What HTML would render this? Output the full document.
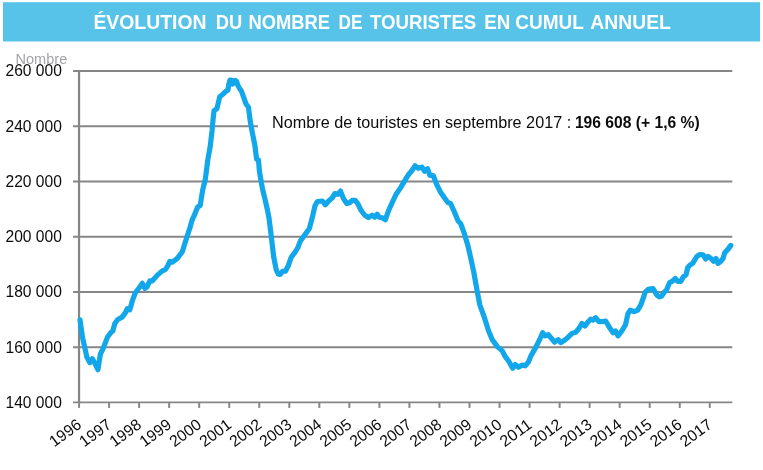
<!DOCTYPE html>
<html lang="fr"><head><meta charset="utf-8"><title>Évolution du nombre de touristes en cumul annuel</title>
<style>
html,body{margin:0;padding:0;background:#fff;}
body{width:763px;height:470px;overflow:hidden;}
svg{display:block;}
text{font-family:"Liberation Sans", sans-serif;}
</style></head><body>
<svg width="763" height="470" viewBox="0 0 763 470">
<rect x="0" y="0" width="763" height="470" fill="#ffffff"/>
<rect x="3" y="2.2" width="757" height="39.3" fill="#57c3e9"/>

<g font-size="20" font-weight="bold" fill="#ffffff">
<text x="93.40" y="28.6" textLength="113.10" lengthAdjust="spacingAndGlyphs">ÉVOLUTION</text>
<text x="215.70" y="28.6" textLength="26.50" lengthAdjust="spacingAndGlyphs">DU</text>
<text x="248.40" y="28.6" textLength="81.60" lengthAdjust="spacingAndGlyphs">NOMBRE</text>
<text x="338.60" y="28.6" textLength="24.00" lengthAdjust="spacingAndGlyphs">DE</text>
<text x="369.90" y="28.6" textLength="106.40" lengthAdjust="spacingAndGlyphs">TOURISTES</text>
<text x="484.20" y="28.6" textLength="26.10" lengthAdjust="spacingAndGlyphs">EN</text>
<text x="515.20" y="28.6" textLength="68.70" lengthAdjust="spacingAndGlyphs">CUMUL</text>
<text x="590.30" y="28.6" textLength="80.60" lengthAdjust="spacingAndGlyphs">ANNUEL</text>
</g>
<line x1="73.05" y1="71.00" x2="732.3" y2="71.00" stroke="#868686" stroke-width="2"/>
<line x1="73.05" y1="126.23" x2="732.3" y2="126.23" stroke="#868686" stroke-width="2"/>
<line x1="73.05" y1="181.47" x2="732.3" y2="181.47" stroke="#868686" stroke-width="2"/>
<line x1="73.05" y1="236.70" x2="732.3" y2="236.70" stroke="#868686" stroke-width="2"/>
<line x1="73.05" y1="291.93" x2="732.3" y2="291.93" stroke="#868686" stroke-width="2"/>
<line x1="73.05" y1="347.17" x2="732.3" y2="347.17" stroke="#868686" stroke-width="2"/>
<line x1="73.05" y1="402.40" x2="732.3" y2="402.40" stroke="#868686" stroke-width="1.7"/>
<line x1="79.05" y1="70.20" x2="79.05" y2="403.40" stroke="#868686" stroke-width="2.2"/>
<line x1="79.05" y1="402.40" x2="79.05" y2="407.90" stroke="#868686" stroke-width="2"/>
<line x1="109.08" y1="402.40" x2="109.08" y2="407.90" stroke="#868686" stroke-width="2"/>
<line x1="139.12" y1="402.40" x2="139.12" y2="407.90" stroke="#868686" stroke-width="2"/>
<line x1="169.15" y1="402.40" x2="169.15" y2="407.90" stroke="#868686" stroke-width="2"/>
<line x1="199.19" y1="402.40" x2="199.19" y2="407.90" stroke="#868686" stroke-width="2"/>
<line x1="229.22" y1="402.40" x2="229.22" y2="407.90" stroke="#868686" stroke-width="2"/>
<line x1="259.26" y1="402.40" x2="259.26" y2="407.90" stroke="#868686" stroke-width="2"/>
<line x1="289.29" y1="402.40" x2="289.29" y2="407.90" stroke="#868686" stroke-width="2"/>
<line x1="319.33" y1="402.40" x2="319.33" y2="407.90" stroke="#868686" stroke-width="2"/>
<line x1="349.36" y1="402.40" x2="349.36" y2="407.90" stroke="#868686" stroke-width="2"/>
<line x1="379.39" y1="402.40" x2="379.39" y2="407.90" stroke="#868686" stroke-width="2"/>
<line x1="409.43" y1="402.40" x2="409.43" y2="407.90" stroke="#868686" stroke-width="2"/>
<line x1="439.46" y1="402.40" x2="439.46" y2="407.90" stroke="#868686" stroke-width="2"/>
<line x1="469.50" y1="402.40" x2="469.50" y2="407.90" stroke="#868686" stroke-width="2"/>
<line x1="499.53" y1="402.40" x2="499.53" y2="407.90" stroke="#868686" stroke-width="2"/>
<line x1="529.57" y1="402.40" x2="529.57" y2="407.90" stroke="#868686" stroke-width="2"/>
<line x1="559.60" y1="402.40" x2="559.60" y2="407.90" stroke="#868686" stroke-width="2"/>
<line x1="589.64" y1="402.40" x2="589.64" y2="407.90" stroke="#868686" stroke-width="2"/>
<line x1="619.67" y1="402.40" x2="619.67" y2="407.90" stroke="#868686" stroke-width="2"/>
<line x1="649.71" y1="402.40" x2="649.71" y2="407.90" stroke="#868686" stroke-width="2"/>
<line x1="679.74" y1="402.40" x2="679.74" y2="407.90" stroke="#868686" stroke-width="2"/>
<line x1="709.77" y1="402.40" x2="709.77" y2="407.90" stroke="#868686" stroke-width="2"/>
<rect x="258" y="112" width="480" height="28" fill="#ffffff"/>
<path d="M80.0,319.9 L82.5,337.3 L86.9,357.2 L89.9,362.7 L92.4,358.7 L94.9,363.4 L97.9,369.7 L100.4,354.2 L103.6,347.3 L107.4,337.3 L111.1,332.3 L112.8,331.0 L114.8,323.6 L117.8,319.4 L122.3,316.9 L125.3,312.9 L127.3,308.7 L129.8,309.9 L132.2,301.2 L135.2,293.0 L139.0,288.0 L142.4,283.3 L144.9,288.3 L146.9,287.0 L149.9,280.8 L152.4,280.8 L157.4,275.1 L162.3,270.9 L165.3,269.6 L167.8,265.9 L169.8,261.4 L172.3,262.2 L177.3,258.4 L182.3,251.7 L185.2,242.2 L189.7,228.5 L192.2,219.8 L194.7,214.3 L197.7,206.9 L200.2,205.4 L202.7,189.9 L205.3,179.5 L207.9,159.1 L210.1,147.2 L212.1,130.2 L212.3,127.4 L213.1,119.1 L214.0,110.8 L216.9,108.6 L218.4,102.5 L219.7,96.7 L222.9,94.2 L225.5,91.6 L228.0,90.0 L228.7,84.6 L229.9,80.1 L231.5,80.1 L232.7,84.0 L234.0,82.7 L235.3,80.5 L236.6,81.4 L237.8,85.2 L239.5,88.4 L241.4,91.0 L243.0,95.5 L244.6,99.9 L245.9,103.8 L248.4,107.0 L249.3,114.0 L250.3,121.6 L251.4,127.4 L252.5,133.6 L254.9,145.5 L256.6,159.1 L258.5,160.0 L259.4,171.0 L261.4,182.9 L262.9,190.7 L265.1,199.6 L267.3,209.3 L269.0,218.0 L271.0,234.1 L273.7,257.0 L276.3,270.0 L278.2,274.0 L280.2,274.5 L282.6,271.4 L285.4,271.2 L288.3,265.7 L291.2,257.3 L295.0,252.3 L297.9,247.5 L300.2,241.3 L304.9,234.7 L309.4,228.4 L312.4,217.2 L314.9,206.0 L317.4,201.5 L322.4,201.0 L325.4,204.8 L328.6,201.0 L332.3,197.8 L334.8,193.6 L337.8,194.3 L340.5,191.1 L343.5,198.6 L346.8,203.5 L349.8,202.8 L352.2,200.3 L355.2,200.3 L357.7,203.5 L361.0,210.3 L364.7,215.2 L368.4,217.7 L372.2,215.2 L374.7,217.2 L377.2,214.2 L379.1,217.2 L382.1,217.7 L385.4,219.7 L388.4,211.0 L392.1,202.8 L395.8,194.8 L400.8,187.4 L404.5,181.1 L408.3,174.9 L412.0,170.5 L415.0,165.8 L418.2,168.2 L422.0,167.2 L424.5,171.2 L427.5,168.7 L429.9,175.5 L433.2,175.5 L436.9,184.9 L440.6,192.3 L444.4,197.8 L448.1,202.8 L450.6,203.5 L454.3,211.8 L458.1,221.0 L460.6,223.5 L464.3,233.4 L468.0,245.9 L470.6,257.5 L473.6,271.2 L477.4,292.4 L479.8,304.8 L484.3,317.3 L488.6,331.0 L492.3,339.7 L497.3,346.6 L502.3,350.9 L505.2,356.6 L508.5,360.8 L512.7,368.3 L515.2,364.6 L518.4,367.1 L522.2,365.1 L525.2,365.8 L528.4,362.1 L530.9,355.9 L535.9,347.1 L539.6,339.7 L542.6,332.7 L545.1,335.9 L548.3,334.7 L552.1,339.2 L554.5,342.2 L558.3,339.7 L560.8,342.6 L564.5,340.2 L568.2,337.2 L572.0,333.4 L575.7,332.2 L578.9,328.5 L581.9,323.5 L584.9,326.0 L588.2,321.7 L590.6,319.2 L593.1,320.2 L595.6,317.7 L598.9,321.7 L601.9,321.7 L605.6,321.0 L609.3,327.2 L613.1,332.7 L615.5,331.0 L618.0,335.9 L621.8,331.0 L625.5,324.7 L628.0,313.5 L630.3,310.2 L634.0,311.7 L637.7,310.2 L640.7,305.2 L644.0,296.0 L645.0,292.4 L648.2,289.4 L653.0,288.6 L657.0,295.1 L659.4,296.9 L661.7,296.1 L664.1,292.4 L666.5,290.0 L669.7,282.5 L672.1,281.3 L675.3,278.6 L677.7,281.3 L680.9,281.3 L683.3,276.8 L686.1,274.7 L687.7,267.7 L689.7,265.3 L692.8,263.2 L696.8,256.5 L700.0,254.5 L703.2,254.9 L705.6,258.9 L708.0,256.5 L711.2,258.6 L713.6,261.3 L716.0,258.6 L718.0,263.4 L720.8,261.3 L723.1,258.4 L724.7,252.8 L727.9,249.4 L730.8,245.4" fill="none" stroke="#11a7ea" stroke-width="5.2" stroke-linejoin="round" stroke-linecap="round"/>
<text x="5.5" y="76.40" font-size="16.6" fill="#0c0c0c" textLength="56.4" lengthAdjust="spacingAndGlyphs">260 000</text>
<text x="5.5" y="131.63" font-size="16.6" fill="#0c0c0c" textLength="56.4" lengthAdjust="spacingAndGlyphs">240 000</text>
<text x="5.5" y="186.87" font-size="16.6" fill="#0c0c0c" textLength="56.4" lengthAdjust="spacingAndGlyphs">220 000</text>
<text x="5.5" y="242.10" font-size="16.6" fill="#0c0c0c" textLength="56.4" lengthAdjust="spacingAndGlyphs">200 000</text>
<text x="5.5" y="297.33" font-size="16.6" fill="#0c0c0c" textLength="56.4" lengthAdjust="spacingAndGlyphs">180 000</text>
<text x="5.5" y="352.57" font-size="16.6" fill="#0c0c0c" textLength="56.4" lengthAdjust="spacingAndGlyphs">160 000</text>
<text x="5.5" y="407.80" font-size="16.6" fill="#0c0c0c" textLength="56.4" lengthAdjust="spacingAndGlyphs">140 000</text>
<text x="15.5" y="63.5" font-size="14" fill="#a3a3a7" textLength="51.8" lengthAdjust="spacingAndGlyphs">Nombre</text>
<text x="272" y="127.7" font-size="16.6" fill="#0c0c0c" textLength="299.2" lengthAdjust="spacingAndGlyphs">Nombre de touristes en septembre 2017 :</text>
<text x="574.9" y="127.7" font-size="16.6" font-weight="bold" fill="#0c0c0c" textLength="124.8" lengthAdjust="spacingAndGlyphs">196 608 (+ 1,6 %)</text>
<text transform="translate(82.45,426.80) rotate(-36.5)" x="-35" y="0" textLength="35" lengthAdjust="spacingAndGlyphs" font-size="16" fill="#0c0c0c">1996</text>
<text transform="translate(112.48,426.80) rotate(-36.5)" x="-35" y="0" textLength="35" lengthAdjust="spacingAndGlyphs" font-size="16" fill="#0c0c0c">1997</text>
<text transform="translate(142.52,426.80) rotate(-36.5)" x="-35" y="0" textLength="35" lengthAdjust="spacingAndGlyphs" font-size="16" fill="#0c0c0c">1998</text>
<text transform="translate(172.55,426.80) rotate(-36.5)" x="-35" y="0" textLength="35" lengthAdjust="spacingAndGlyphs" font-size="16" fill="#0c0c0c">1999</text>
<text transform="translate(202.59,426.80) rotate(-36.5)" x="-35" y="0" textLength="35" lengthAdjust="spacingAndGlyphs" font-size="16" fill="#0c0c0c">2000</text>
<text transform="translate(232.62,426.80) rotate(-36.5)" x="-35" y="0" textLength="35" lengthAdjust="spacingAndGlyphs" font-size="16" fill="#0c0c0c">2001</text>
<text transform="translate(262.66,426.80) rotate(-36.5)" x="-35" y="0" textLength="35" lengthAdjust="spacingAndGlyphs" font-size="16" fill="#0c0c0c">2002</text>
<text transform="translate(292.69,426.80) rotate(-36.5)" x="-35" y="0" textLength="35" lengthAdjust="spacingAndGlyphs" font-size="16" fill="#0c0c0c">2003</text>
<text transform="translate(322.73,426.80) rotate(-36.5)" x="-35" y="0" textLength="35" lengthAdjust="spacingAndGlyphs" font-size="16" fill="#0c0c0c">2004</text>
<text transform="translate(352.76,426.80) rotate(-36.5)" x="-35" y="0" textLength="35" lengthAdjust="spacingAndGlyphs" font-size="16" fill="#0c0c0c">2005</text>
<text transform="translate(382.79,426.80) rotate(-36.5)" x="-35" y="0" textLength="35" lengthAdjust="spacingAndGlyphs" font-size="16" fill="#0c0c0c">2006</text>
<text transform="translate(412.83,426.80) rotate(-36.5)" x="-35" y="0" textLength="35" lengthAdjust="spacingAndGlyphs" font-size="16" fill="#0c0c0c">2007</text>
<text transform="translate(442.86,426.80) rotate(-36.5)" x="-35" y="0" textLength="35" lengthAdjust="spacingAndGlyphs" font-size="16" fill="#0c0c0c">2008</text>
<text transform="translate(472.90,426.80) rotate(-36.5)" x="-35" y="0" textLength="35" lengthAdjust="spacingAndGlyphs" font-size="16" fill="#0c0c0c">2009</text>
<text transform="translate(502.93,426.80) rotate(-36.5)" x="-35" y="0" textLength="35" lengthAdjust="spacingAndGlyphs" font-size="16" fill="#0c0c0c">2010</text>
<text transform="translate(532.97,426.80) rotate(-36.5)" x="-35" y="0" textLength="35" lengthAdjust="spacingAndGlyphs" font-size="16" fill="#0c0c0c">2011</text>
<text transform="translate(563.00,426.80) rotate(-36.5)" x="-35" y="0" textLength="35" lengthAdjust="spacingAndGlyphs" font-size="16" fill="#0c0c0c">2012</text>
<text transform="translate(593.04,426.80) rotate(-36.5)" x="-35" y="0" textLength="35" lengthAdjust="spacingAndGlyphs" font-size="16" fill="#0c0c0c">2013</text>
<text transform="translate(623.07,426.80) rotate(-36.5)" x="-35" y="0" textLength="35" lengthAdjust="spacingAndGlyphs" font-size="16" fill="#0c0c0c">2014</text>
<text transform="translate(653.11,426.80) rotate(-36.5)" x="-35" y="0" textLength="35" lengthAdjust="spacingAndGlyphs" font-size="16" fill="#0c0c0c">2015</text>
<text transform="translate(683.14,426.80) rotate(-36.5)" x="-35" y="0" textLength="35" lengthAdjust="spacingAndGlyphs" font-size="16" fill="#0c0c0c">2016</text>
<text transform="translate(713.17,426.80) rotate(-36.5)" x="-35" y="0" textLength="35" lengthAdjust="spacingAndGlyphs" font-size="16" fill="#0c0c0c">2017</text>
</svg></body></html>
